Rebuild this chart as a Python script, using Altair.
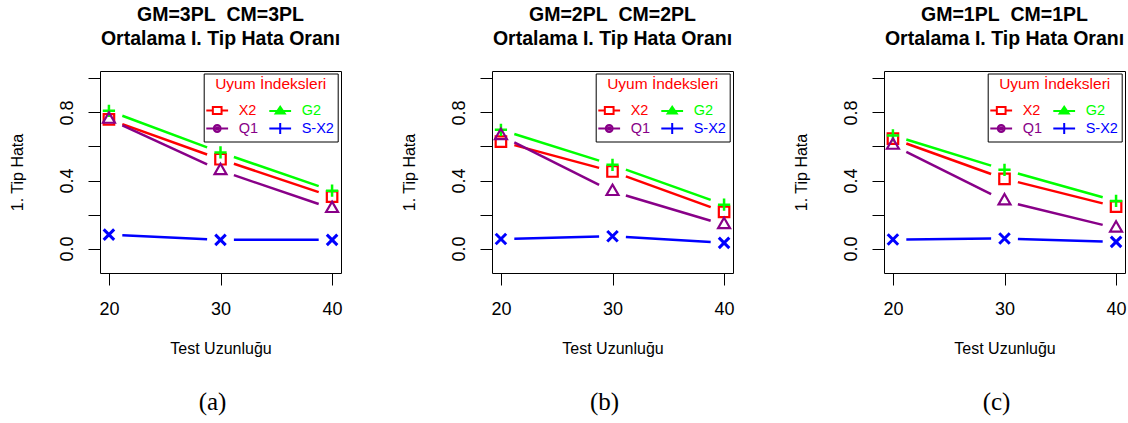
import altair as alt
import pandas as pd

# ---------------- data ----------------
test_len = [20, 30, 40]
series = ["X2", "G2", "Q1", "S-X2"]
colors = ["#FF0000", "#00FF00", "#880088", "#0000FF"]
legend_order = ["X2", "Q1", "G2", "S-X2"]
titles1 = ["GM=3PL\u00a0 CM=3PL", "GM=2PL\u00a0 CM=2PL", "GM=1PL\u00a0 CM=1PL"]
title2 = "Ortalama I. Tip Hata Oranı"
tags = ["(a)", "(b)", "(c)"]

a_x2 = [0.760, 0.525, 0.305]
a_g2 = [0.810, 0.565, 0.340]
a_q1 = [0.760, 0.458, 0.235]
a_sx2 = [0.082, 0.051, 0.051]

b_x2 = [0.629, 0.453, 0.215]
b_g2 = [0.698, 0.492, 0.258]
b_q1 = [0.664, 0.335, 0.140]
b_sx2 = [0.056, 0.072, 0.033]

c_x2 = [0.646, 0.410, 0.246]
c_g2 = [0.665, 0.463, 0.280]
c_q1 = [0.607, 0.280, 0.120]
c_sx2 = [0.053, 0.059, 0.039]

y_ticks = [0.0, 0.2, 0.4, 0.6, 0.8, 1.0]
y_labeled = [0.0, 0.4, 0.8]

panels_data = [
    [a_x2, a_g2, a_q1, a_sx2],
    [b_x2, b_g2, b_q1, b_sx2],
    [c_x2, c_g2, c_q1, c_sx2],
]

# ---------------- styles ----------------
FONT = "Liberation Sans"
marker_shape = {
    "X2": "square",
    "G2": "M-1,0H1M0,-1V1",
    "Q1": "M0,-1L0.866,0.5L-0.866,0.5Z",
    "S-X2": "M-1,-1L1,1M-1,1L1,-1",
}
marker_size = {"X2": 110, "G2": 150, "Q1": 190, "S-X2": 110}
marker_sw = {"X2": 2.2, "G2": 2.5, "Q1": 2.2, "S-X2": 3}

legend_path = {
    "X2": "M-1.2,0H-0.48M0.48,0H1.2M-0.48,-0.38H0.48V0.38H-0.48Z",
    "G2": "M-1.2,0H1.2M0,-0.45L0.5,0.3L-0.5,0.3ZM0,-0.2L0.22,0.15L-0.22,0.15Z",
    "Q1": "M-1.2,0H1.2M-0.38,0A0.38,0.38,0,1,0,0.38,0A0.38,0.38,0,1,0,-0.38,0ZM-0.15,0A0.15,0.15,0,1,0,0.15,0A0.15,0.15,0,1,0,-0.15,0Z",
    "S-X2": "M-1.2,0H1.2M0,-0.6V0.6",
}
series_color = dict(zip(series, colors))

color_expr = " : ".join(
    [f"datum.value === '{s}' ? '{c}'" for s, c in zip(series[:-1], colors[:-1])]
) + f" : '{colors[-1]}'"

label_expr = (
    "indexof([" + ",".join(str(v) for v in y_labeled) + "], round(datum.value*10)/10) >= 0"
    " ? format(datum.value, '.1f') : ''"
)

GAP = 0.12
W, H = 241, 202


def make_panel(i):
    rows = []
    for s, vals in zip(series, panels_data[i]):
        for x, v in zip(test_len, vals):
            rows.append({"series": s, "x": x, "y": v})
    df = pd.DataFrame(rows)
    base = alt.Chart(df)

    xs = alt.Scale(domain=[19.2, 40.8], nice=False, zero=False)
    ys = alt.Scale(domain=[-0.144, 1.044], nice=False, zero=False)
    cs = alt.Scale(domain=series, range=colors)

    xaxis = alt.Axis(
        values=test_len, title="Test Uzunluğu", grid=False, domain=False,
        tickSize=12, tickColor="black", labelFontSize=18, labelFont=FONT,
        labelColor="black", labelPadding=15, labelFlush=False,
        titleFontSize=16, titleFont=FONT, titleFontWeight="normal",
        titleColor="black", titlePadding=22,
    )
    yaxis = alt.Axis(
        values=y_ticks, labelExpr=label_expr, title="1. Tip Hata", grid=False,
        domain=False, tickSize=12, tickColor="black", labelFontSize=18,
        labelFont=FONT, labelColor="black", labelAngle=270, labelAlign="center",
        labelBaseline="bottom", labelPadding=11.5, labelFlush=False,
        labelOverlap=False,
        titleFontSize=16, titleFont=FONT, titleFontWeight="normal",
        titleColor="black", titleAngle=270, titleX=-74.3, titleY=H / 2,
        titleAlign="center", titleBaseline="bottom",
    )

    segs = (
        base.transform_window(
            nx="lead(x)", ny="lead(y)", groupby=["series"], sort=[alt.SortField("x")]
        )
        .transform_filter("isValid(datum.nx)")
        .transform_calculate(
            xa=f"datum.x + {GAP}*(datum.nx - datum.x)",
            xb=f"datum.nx - {GAP}*(datum.nx - datum.x)",
            ya=f"datum.y + {GAP}*(datum.ny - datum.y)",
            yb=f"datum.ny - {GAP}*(datum.ny - datum.y)",
        )
        .mark_rule(strokeWidth=2.5)
        .encode(
            x=alt.X("xa:Q", scale=xs, axis=xaxis),
            x2="xb:Q",
            y=alt.Y("ya:Q", scale=ys, axis=yaxis),
            y2="yb:Q",
            color=alt.Color("series:N", scale=cs, legend=None),
        )
    )

    markers = []
    for s in series:
        markers.append(
            base.transform_filter(alt.datum.series == s)
            .mark_point(
                shape=marker_shape[s], size=marker_size[s], filled=False,
                strokeWidth=marker_sw[s], opacity=1,
            )
            .encode(
                x=alt.X("x:Q", scale=xs, axis=xaxis),
                y=alt.Y("y:Q", scale=ys, axis=yaxis),
                color=alt.Color("series:N", scale=cs, legend=None),
            )
        )

    leg = alt.Legend(
        title="Uyum İndeksleri", orient="none", legendX=103.7, legendY=2.5,
        columns=2, titleColor="#FF0000", titleFont=FONT, titleFontSize=15.5,
        titleFontWeight="normal", titleAnchor="middle", titlePadding=8,
        labelFont=FONT, labelFontSize=14.5, labelColor=alt.ExprRef(color_expr),
        labelOffset=11, symbolSize=330, symbolStrokeWidth=2,
        columnPadding=6, rowPadding=0, padding=3,
        strokeColor="black", fillColor="white",
    )
    legend_layer = (
        base.transform_filter("false")
        .mark_point(filled=False, opacity=1)
        .encode(
            x=alt.X("x:Q", scale=xs, axis=xaxis),
            y=alt.Y("y:Q", scale=ys, axis=yaxis),
            color=alt.Color(
                "series:N",
                scale=alt.Scale(domain=legend_order,
                                range=[series_color[s] for s in legend_order]),
                legend=leg,
            ),
            shape=alt.Shape(
                "series:N",
                scale=alt.Scale(domain=legend_order,
                                range=[legend_path[s] for s in legend_order]),
                legend=leg,
            ),
        )
    )

    tag = (
        alt.Chart(pd.DataFrame({"tag": [tags[i]]}))
        .mark_text(font="Liberation Serif", fontSize=25, color="black",
                   baseline="middle", align="center")
        .encode(text="tag:N", x=alt.value(112.5), y=alt.value(331))
    )

    return (
        alt.layer(segs, *markers, legend_layer, tag)
        .resolve_scale(color="independent", shape="independent")
        .properties(
            width=W, height=H,
            title=alt.TitleParams(
                text=[titles1[i], title2], font=FONT, fontSize=19.5,
                fontWeight="bold", color="black", lineHeight=24,
                anchor="middle", frame="group", baseline="bottom", offset=3,
            ),
        )
    )


chart = (
    alt.hconcat(*[make_panel(i) for i in range(3)], spacing=151, bounds="flush")
    .resolve_scale(color="independent", shape="independent")
    .resolve_legend(color="independent", shape="independent")
    .configure(padding={"left": 9, "top": 4, "right": 0, "bottom": 0},
               background="white")
    .configure_view(stroke="black", strokeWidth=1)
)

chart.save("out.html", embed_options={"renderer": "svg", "actions": False})
